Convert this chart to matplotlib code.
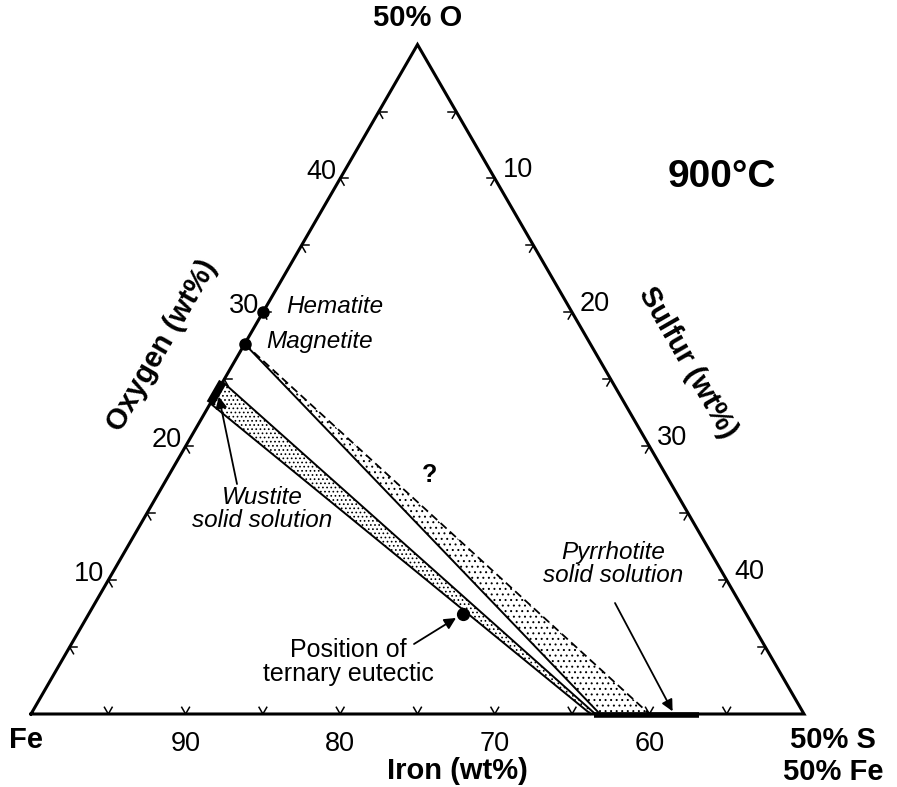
import numpy as np
import matplotlib
matplotlib.use("Agg")
import matplotlib.pyplot as plt
from matplotlib.patches import Polygon

plt.rcParams['font.family'] = ['Liberation Sans', 'DejaVu Sans']
plt.rcParams['hatch.linewidth'] = 0.7

SQ3 = np.sqrt(3.0) / 2.0

# ---- compositions, wt% (Fe is the remainder) -------------------------------
tick_values = [5, 10, 15, 20, 25, 30, 35, 40, 45]
labelled_values = [10, 20, 30, 40]          # O and S labels; Fe label = 100 - S

hematite_O = 30.06
magnetite_O = 27.64
wustite_O = [23.2, 24.8]                    # wustite solid solution on Fe-O join
pyrrhotite_S = [36.4, 43.2]                 # pyrrhotite solid solution on Fe-S join
eutectic_O, eutectic_S = 7.5, 24.2

# tie-line boundaries: [O on the Fe-O join, S on the Fe-S join]
wustite_upper = [24.8, 36.5]
wustite_lower = [23.2, 36.2]
magnetite_solid = [27.64, 36.8]
magnetite_dashed = [27.64, 40.0]


def tern(o, s):
    """(O, S) wt% -> cartesian position in the Fe / 50%O / 50%S triangle."""
    o = np.asarray(o, float)
    s = np.asarray(s, float)
    return s + o / 2.0, o * SQ3


# figure: 897 x 787 px, triangle side of 50 wt% spans 773 px
W, H, DPI = 897, 787, 100
SCALE = 15.46
X0, Y0 = 31, 714


def pix(xp, yp):
    """figure pixel (from top-left) -> data coordinates, for annotation placement"""
    return (xp - X0) / SCALE, (Y0 - yp) / SCALE


fig = plt.figure(figsize=(W / DPI, H / DPI), dpi=DPI)
ax = fig.add_axes([0, 0, 1, 1])
ax.set_xlim(-X0 / SCALE, (W - X0) / SCALE)
ax.set_ylim(-(H - Y0) / SCALE, Y0 / SCALE)
ax.axis('off')

# triangle frame
cx, cy = tern([0, 50, 0, 0], [0, 0, 50, 0])
ax.plot(cx, cy, color='k', lw=2.2, solid_joinstyle='miter', zorder=5)

# chevron ticks pointing along the two inward grid directions
L = 0.5
for t in tick_values:
    for o, s, arms in [(0, t, [(0.5, SQ3), (-0.5, SQ3)]),
                       (t, 0, [(1.0, 0.0), (0.5, -SQ3)]),
                       (50 - t, t, [(-1.0, 0.0), (-0.5, -SQ3)])]:
        px, py = tern(o, s)
        for dx, dy in arms:
            ax.plot([px, px + L * dx], [py, py + L * dy], color='k', lw=1.1, zorder=5)

# tick labels
for v in labelled_values:
    ax.annotate(str(100 - v), xy=tern(0, v), xytext=(0, -30), textcoords='offset pixels',
                ha='center', va='center', fontsize=19.5)
    ax.annotate(str(v), xy=tern(v, 0), xytext=(-19, 6), textcoords='offset pixels',
                ha='center', va='center', fontsize=19.5)
    ax.annotate(str(v), xy=tern(50 - v, v), xytext=(23, 8), textcoords='offset pixels',
                ha='center', va='center', fontsize=19.5)


def tie_polygon(a, b):
    pts = [tern(a[0], 0), tern(0, a[1]), tern(0, b[1]), tern(b[0], 0)]
    return np.array([[float(p[0]), float(p[1])] for p in pts])


# dotted tie-line fields
ax.add_patch(Polygon(tie_polygon(wustite_upper, wustite_lower), closed=True,
                     facecolor='none', edgecolor='k', lw=0, hatch='....', zorder=2))
ax.add_patch(Polygon(tie_polygon(magnetite_dashed, magnetite_solid), closed=True,
                     facecolor='none', edgecolor='k', lw=0, hatch='...', zorder=2))

for line in (wustite_upper, wustite_lower, magnetite_solid):
    lx, ly = tern([line[0], 0], [0, line[1]])
    ax.plot(lx, ly, color='k', lw=1.4, zorder=3)
lx, ly = tern([magnetite_dashed[0], 0], [0, magnetite_dashed[1]])
ax.plot(lx, ly, color='k', lw=1.3, linestyle=(0, (4.5, 2.5)), zorder=3)

# solid-solution ranges along the binary joins
bx, by = tern(wustite_O, [0, 0])
ax.plot(bx, by, color='k', lw=6, solid_capstyle='butt', zorder=6)
bx, by = tern([0, 0], pyrrhotite_S)
ax.plot(bx, by - 0.07, color='k', lw=4.0, solid_capstyle='butt', zorder=6)

# phases and eutectic
ax.plot(*tern(hematite_O, 0), 'o', color='k', ms=8, zorder=7)
ax.plot(*tern(magnetite_O, 0), 'o', color='k', ms=8, zorder=7)
ax.plot(*tern(eutectic_O, eutectic_S), 'o', color='k', ms=8.5, zorder=7)

ax.annotate('Hematite', xy=tern(hematite_O, 0), xytext=(23, 5), textcoords='offset pixels',
            ha='left', va='center', fontsize=17.5, style='italic')
ax.annotate('Magnetite', xy=tern(magnetite_O, 0), xytext=(22, 2), textcoords='offset pixels',
            ha='left', va='center', fontsize=17.5, style='italic')

arrow = dict(arrowstyle='-|>', color='k', lw=1.3, mutation_scale=17, shrinkA=0, shrinkB=0)

ax.text(*pix(262, 509), 'Wustite\nsolid solution', ha='center', va='center',
        fontsize=17.5, style='italic', linespacing=1.05)
ax.annotate('', xy=tern(23.7, 0.3), xytext=pix(237, 484), arrowprops=arrow, zorder=8)

ax.text(*pix(613, 564), 'Pyrrhotite\nsolid solution', ha='center', va='center',
        fontsize=17.5, style='italic', linespacing=1.05)
ax.annotate('', xy=tern(0.2, 41.4), xytext=pix(615, 603), arrowprops=arrow, zorder=8)

ax.text(*pix(348, 662), 'Position of\nternary eutectic', ha='center', va='center',
        fontsize=18, linespacing=1.05)
ax.annotate('', xy=tern(eutectic_O, eutectic_S), xytext=pix(414, 644),
            arrowprops=dict(arrow, shrinkB=6), zorder=8)

ax.text(*pix(430, 475), '?', ha='center', va='center', fontsize=18, fontweight='bold')

# corner, axis and temperature labels
ax.annotate('50% O', xy=tern(50, 0), xytext=(0, 27), textcoords='offset pixels',
            ha='center', va='center', fontsize=21, fontweight='bold')
ax.annotate('Fe', xy=tern(0, 0), xytext=(-5, -26), textcoords='offset pixels',
            ha='center', va='center', fontsize=21, fontweight='bold')
ax.annotate('50% S\n50% Fe', xy=tern(0, 50), xytext=(29, -42), textcoords='offset pixels',
            ha='center', va='center', fontsize=21, fontweight='bold', linespacing=1.15)
ax.text(*pix(457, 771), 'Iron (wt%)', ha='center', va='center', fontsize=21, fontweight='bold')
ax.text(*pix(162, 345), 'Oxygen (wt%)', ha='center', va='center', fontsize=21,
        fontweight='bold', rotation=60, rotation_mode='anchor')
ax.text(*pix(688, 363), 'Sulfur (wt%)', ha='center', va='center', fontsize=21,
        fontweight='bold', rotation=-60, rotation_mode='anchor')
ax.text(*pix(722, 177), '900°C', ha='center', va='center', fontsize=28, fontweight='bold')

fig.savefig('out.png', dpi=DPI)
